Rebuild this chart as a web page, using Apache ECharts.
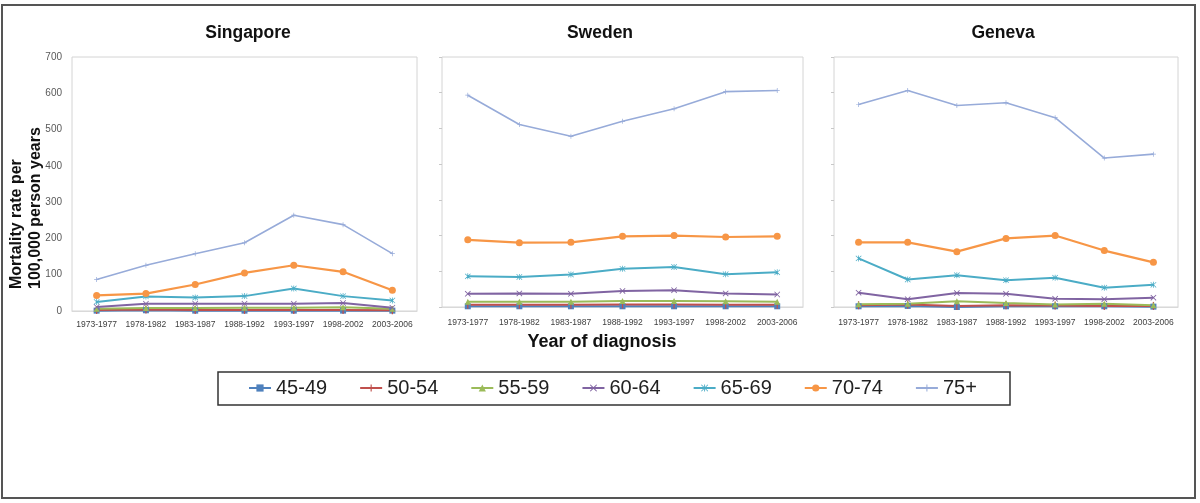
<!DOCTYPE html>
<html>
<head>
<meta charset="utf-8">
<script src="https://cdn.jsdelivr.net/npm/echarts@6/dist/echarts.min.js"></script>
<style>
html,body{margin:0;padding:0;background:#fff;}
#chart{width:1200px;height:503px;}
</style>
</head>
<body>
<div id="chart"></div>
<script>
const categories = ['1973-1977','1978-1982','1983-1987','1988-1992','1993-1997','1998-2002','2003-2006'];
const ageGroups = ['45-49','50-54','55-59','60-64','65-69','70-74','75+'];
const countries = ['Singapore','Sweden','Geneva'];
const yTicks = [0,100,200,300,400,500,600,700];

// values per age group (rows follow ageGroups)
const singaporeValues = [
  [1,2,1,1,1,1,1],
  [3,4,3,3,3,3,2],
  [6,8,8,9,9,10,6],
  [11,20,20,20,20,22,9],
  [25,40,37,41,62,41,29],
  [43,48,73,105,126,108,57],
  [87,126,158,188,264,238,158]
];
const swedenValues = [
  [2,2,2,2,2,2,2],
  [6,6,6,7,7,6,6],
  [15,15,15,17,17,16,15],
  [37,38,37,45,47,38,35],
  [86,84,91,107,112,92,97],
  [188,180,181,198,200,196,198],
  [593,511,478,520,555,603,606]
];
const genevaValues = [
  [2,3,0,2,2,2,1],
  [5,7,3,5,4,3,3],
  [8,9,16,11,7,9,5],
  [40,22,39,37,23,22,26],
  [136,77,89,75,82,54,62],
  [181,181,155,192,200,158,125],
  [567,606,564,572,530,417,428]
];

const colors = ['#4F81BD','#C0504D','#9BBB59','#8064A2','#4BACC6','#F79646','#97ABD9'];
const symbols = [
  'rect',
  'path://M0,0 M10,10 M4.2,0h1.6v10h-1.6z',
  'triangle',
  'path://M1,0 L5,4 L9,0 L10,1 L6,5 L10,9 L9,10 L5,6 L1,10 L0,9 L4,5 L0,1 Z',
  'path://M4.4,0h1.2v10h-1.2z M1,0.2 L5,4.2 L9,0.2 L9.8,1 L5.8,5 L9.8,9 L9,9.8 L5,5.8 L1,9.8 L0.2,9 L4.2,5 L0.2,1 Z',
  'circle',
  'path://M4.3,0h1.4v4.3h4.3v1.4h-4.3v4.3h-1.4v-4.3h-4.3v-1.4h4.3z'
];
const symbolSizes = [6,8,6,6,6,7,5];
const lineWidths = [2,2,2,2,2,2.2,1.6];

const FONT = '"Liberation Sans", Arial, sans-serif';
const allValues = [singaporeValues, swedenValues, genevaValues];

const grids = [
  {left:72, top:57, width:345, height:254},
  {left:442, top:57, width:361, height:250},
  {left:834, top:57, width:344, height:250}
];

const xAxes = grids.map((g,i)=>({
  type:'category', gridIndex:i, data:categories, boundaryGap:true,
  axisLine:{show:true, lineStyle:{color:'#d9d9d9', width:1}},
  axisTick:{show:false},
  axisLabel:{interval:0, fontSize:8.5, color:'#404040', margin: i===0 ? 9 : 11, fontFamily:FONT}
}));
const yAxes = grids.map((g,i)=>({
  type:'value', gridIndex:i, min:yTicks[0], max:yTicks[yTicks.length-1], interval:100,
  splitLine:{show:false},
  axisLine:{show:false},
  axisTick: i===0 ? {show:false} : {show:true, length:3, lineStyle:{color:'#c8c8c8'}},
  axisLabel: i===0 ? {show:true, fontSize:10, color:'#595959', margin:10, fontFamily:FONT} : {show:false}
}));

const series = [];
allValues.forEach((vals, c) => {
  vals.forEach((row, g) => {
    series.push({
      type:'line', name:ageGroups[g], xAxisIndex:c, yAxisIndex:c, data:row,
      symbol:symbols[g], symbolSize:symbolSizes[g], showSymbol:true,
      itemStyle:{color:colors[g]},
      lineStyle:{color:colors[g], width:lineWidths[g]},
      emphasis:{disabled:true}
    });
  });
});

const titleX = [248, 600, 1003];
const graphics = [
  {type:'rect', shape:{x:2, y:5, width:1193, height:493}, style:{fill:'none', stroke:'#555', lineWidth:2}, z:100},
  {type:'rect', shape:{x:218, y:372, width:792, height:33}, style:{fill:'none', stroke:'#333', lineWidth:1.5}, z:100},
  {type:'text', x:602, y:342, style:{text:'Year of diagnosis', fontSize:18, fontWeight:'bold', fontFamily:FONT, fill:'#111', align:'center', verticalAlign:'middle'}, z:100},
  {type:'text', x:26.5, y:289, rotation:Math.PI/2, style:{text:'Mortality rate per\n100,000 person years', fontSize:16, fontWeight:'bold', fontFamily:FONT, fill:'#111', align:'left', verticalAlign:'middle', lineHeight:19}, z:100}
];
countries.forEach((name,i)=>{
  graphics.push({type:'text', x:titleX[i], y:33, style:{text:name, fontSize:17.5, fontWeight:'bold', fontFamily:FONT, fill:'#111', align:'center', verticalAlign:'middle'}, z:100});
});

const chart = echarts.init(document.getElementById('chart'), null, {renderer:'canvas'});
chart.setOption({
  animation:false,
  backgroundColor:'#fff',
  textStyle:{fontFamily:FONT},
  grid: grids.map(g=>Object.assign({show:true, borderColor:'#d4d4d4', borderWidth:1, backgroundColor:'#fff', containLabel:false}, g)),
  xAxis: xAxes,
  yAxis: yAxes,
  legend:{
    data:ageGroups, left:248, top:378, padding:0, itemGap:32, itemWidth:22, itemHeight:9,
    textStyle:{fontSize:20, color:'#222', fontFamily:FONT}
  },
  graphic: graphics,
  series: series
});
</script>
</body>
</html>
